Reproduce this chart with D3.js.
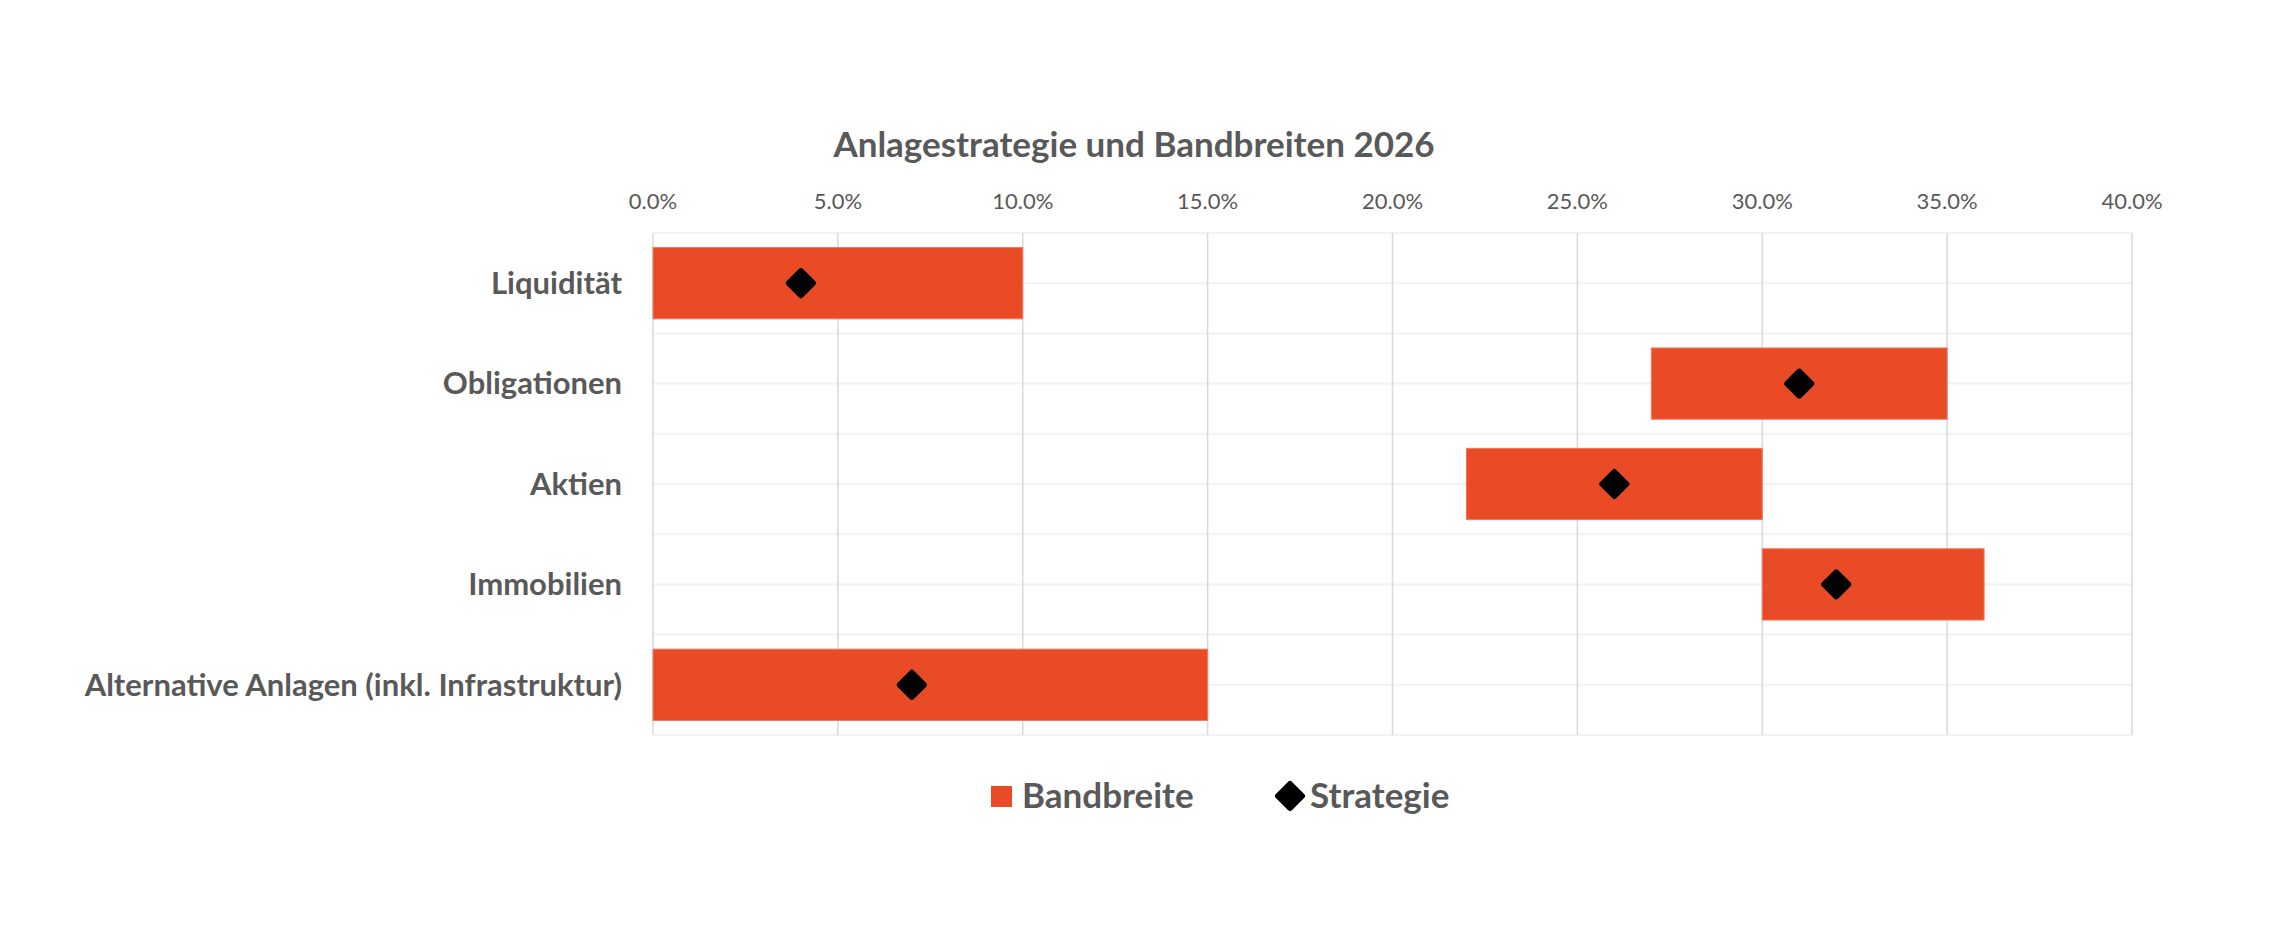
<!DOCTYPE html>
<html>
<head>
    <meta charset="utf-8">
    <title>Anlagestrategie und Bandbreiten 2026</title>
    <script src="https://d3js.org/d3.v7.min.js"></script>
    <style>
        body {
            margin: 0;
            background-color: #fff;
            font-family: Lato, "Open Sans", sans-serif;
        }
        svg text {
            fill: #595959;
        }
    </style>
</head>
<body>
    <div id="chart"></div>
    <script>
        // data
        const categories = ['Liquidität', 'Obligationen', 'Aktien', 'Immobilien', 'Alternative Anlagen (inkl. Infrastruktur)'];
        const bandMin = [0, 27, 22, 30, 0];
        const bandMax = [10, 35, 30, 36, 15];
        const strategy = [4, 31, 26, 32, 7];
        const xTicks = [0, 5, 10, 15, 20, 25, 30, 35, 40];
        const seriesNames = ['Bandbreite', 'Strategie'];

        const width = 2282;
        const height = 926;
        const margin = { top: 233, right: 150, bottom: 191, left: 653 };

        const red = '#E94B26';

        const svg = d3.select('#chart')
            .append('svg')
            .attr('width', width)
            .attr('height', height);

        const x = d3.scaleLinear()
            .domain([0, 40])
            .range([margin.left, 2132]);

        const y = d3.scaleBand()
            .domain(categories)
            .range([margin.top, height - margin.bottom])
            .padding(0);

        const barH = y.bandwidth() * 0.71;

        // horizontal light lines (band edges and centres)
        const hLines = [];
        categories.forEach(c => {
            hLines.push(y(c));
            hLines.push(y(c) + y.bandwidth() / 2);
        });
        hLines.push(y.range()[1]);

        svg.append('g')
            .selectAll('line')
            .data(hLines)
            .join('line')
            .attr('x1', x(0))
            .attr('x2', x(40))
            .attr('y1', d => d)
            .attr('y2', d => d)
            .attr('stroke', '#f2f2f2')
            .attr('stroke-width', 2);

        // vertical gridlines
        svg.append('g')
            .selectAll('line')
            .data(xTicks)
            .join('line')
            .attr('x1', d => x(d))
            .attr('x2', d => x(d))
            .attr('y1', y.range()[0])
            .attr('y2', y.range()[1])
            .attr('stroke', '#d9d9d9')
            .attr('stroke-width', 1.5);

        // top axis labels
        svg.append('g')
            .selectAll('text')
            .data(xTicks)
            .join('text')
            .attr('x', d => x(d))
            .attr('y', 209)
            .attr('text-anchor', 'middle')
            .style('font-size', '22px')
            .text(d => d.toFixed(1) + '%');

        // bars (Bandbreite)
        svg.append('g')
            .selectAll('rect')
            .data(categories)
            .join('rect')
            .attr('x', (d, i) => x(bandMin[i]))
            .attr('y', d => y(d) + (y.bandwidth() - barH) / 2)
            .attr('width', (d, i) => x(bandMax[i]) - x(bandMin[i]))
            .attr('height', barH)
            .attr('fill', red)
            .attr('stroke', '#f07a60')
            .attr('stroke-width', 1);

        // diamonds (Strategie)
        const diamond = 'M0,-12L12,0L0,12L-12,0Z';
        svg.append('g')
            .selectAll('path')
            .data(categories)
            .join('path')
            .attr('transform', (d, i) => `translate(${x(strategy[i])},${y(d) + y.bandwidth() / 2})`)
            .attr('d', diamond)
            .attr('fill', '#000')
            .attr('stroke', '#000')
            .attr('stroke-width', 6)
            .attr('stroke-linejoin', 'round');

        // category labels
        svg.append('g')
            .selectAll('text')
            .data(categories)
            .join('text')
            .attr('x', 622)
            .attr('y', d => y(d) + y.bandwidth() / 2)
            .attr('dy', '0.35em')
            .attr('text-anchor', 'end')
            .style('font-size', '31px')
            .style('font-weight', 'bold')
            .text(d => d);

        // title
        svg.append('text')
            .attr('x', 1134)
            .attr('y', 157)
            .attr('text-anchor', 'middle')
            .style('font-size', '35px')
            .style('font-weight', 'bold')
            .text('Anlagestrategie und Bandbreiten 2026');

        // legend
        const legend = svg.append('g');
        legend.append('rect')
            .attr('x', 991)
            .attr('y', 786)
            .attr('width', 21)
            .attr('height', 21)
            .attr('fill', red);
        legend.append('text')
            .attr('x', 1022)
            .attr('y', 808)
            .style('font-size', '35px')
            .style('font-weight', 'bold')
            .text(seriesNames[0]);
        legend.append('path')
            .attr('transform', 'translate(1290,796)')
            .attr('d', diamond)
            .attr('fill', '#000')
            .attr('stroke', '#000')
            .attr('stroke-width', 6)
            .attr('stroke-linejoin', 'round');
        legend.append('text')
            .attr('x', 1310)
            .attr('y', 808)
            .style('font-size', '35px')
            .style('font-weight', 'bold')
            .text(seriesNames[1]);
    </script>
</body>
</html>
